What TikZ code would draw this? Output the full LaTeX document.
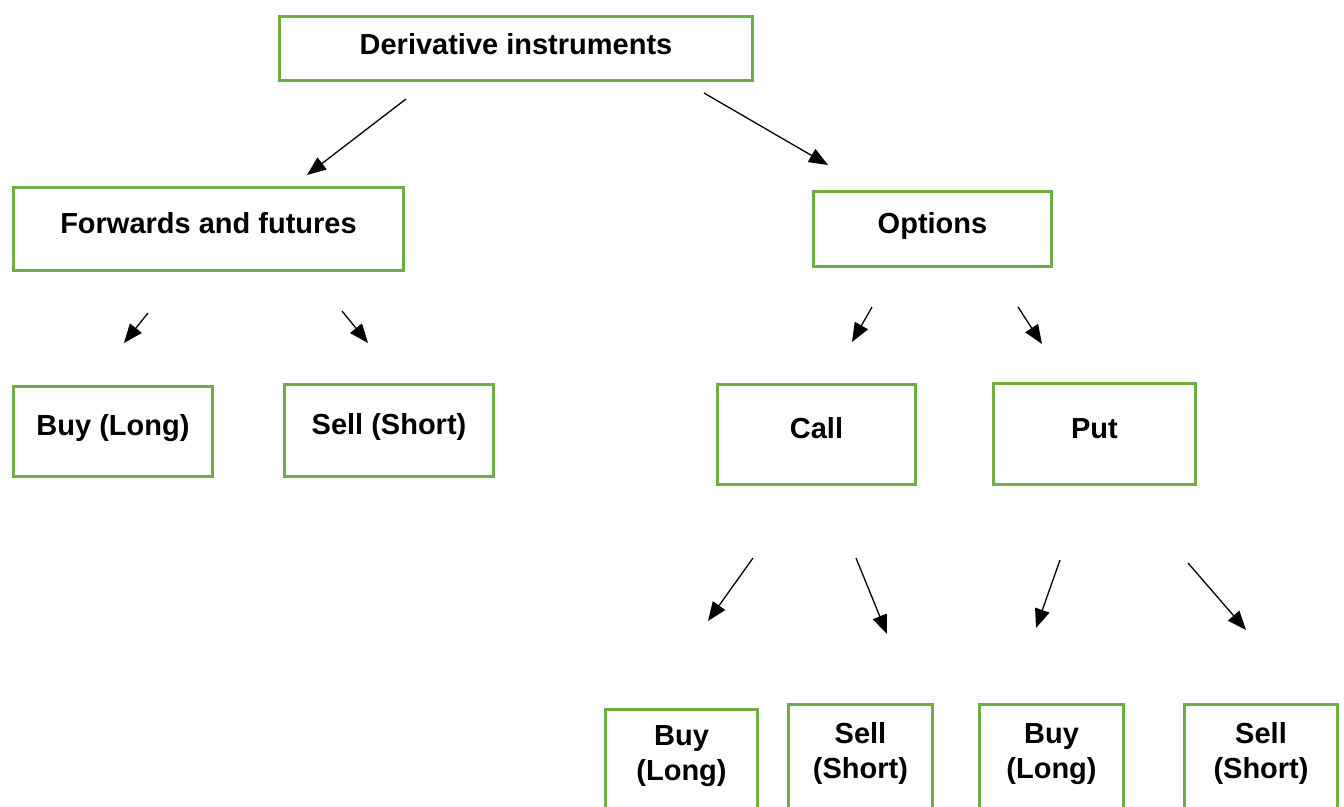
\documentclass[tikz,border=0pt]{standalone}
\usepackage{fontspec}
\setmainfont{Liberation Sans}
\usetikzlibrary{arrows.meta}
\definecolor{boxgreen}{HTML}{70AD47}
\begin{document}
\begin{tikzpicture}[x=1pt, y=-1pt,
    box/.style = {draw=boxgreen, line width=2.8pt, inner sep=0pt, font=\fontsize{29}{35}\selectfont\bfseries, text height=21pt, text depth=13pt},
    lbl/.style = {align=center, inner sep=0pt, font=\fontsize{29}{35}\selectfont\bfseries},
    arr/.style = {-{Triangle[length=19pt, width=15pt]}, line width=1.3pt}]
\useasboundingbox (0,0) rectangle (1344,806);
\clip (0,0) rectangle (1344,806);
% boxes
\node[box, minimum width=473, minimum height=64, text depth=9pt] (deriv) at (516,48.5) {Derivative instruments};
\node[box, minimum width=390, minimum height=83] (fwd) at (208.5,229) {Forwards and futures};
\node[box, minimum width=238, minimum height=75] (opt) at (932.5,229) {Options};
\node[box, minimum width=199, minimum height=90] (fbuy) at (113,431.5) {Buy (Long)};
\node[box, minimum width=209, minimum height=92] (fsell) at (389,430.5) {Sell (Short)};
\node[box, minimum width=198, minimum height=100] (call) at (816.5,434.5) {Call};
\node[box, minimum width=202, minimum height=101] (put) at (1094.5,434) {Put};
\node[box, minimum width=152, minimum height=130] (cbuy) at (681.5,774.5) {};
\node[box, minimum width=144, minimum height=130] (csell) at (860.5,769.5) {};
\node[box, minimum width=144, minimum height=130] (pbuy) at (1051.5,769.5) {};
\node[box, minimum width=153, minimum height=130] (psell) at (1261,769.5) {};
\node[lbl] (cbuy-t) at (681.5,756) {Buy\\(Long)};
\node[lbl] (csell-t) at (860.5,753) {Sell\\(Short)};
\node[lbl] (pbuy-t) at (1051.5,754) {Buy\\(Long)};
\node[lbl] (psell-t) at (1261,753) {Sell\\(Short)};
% arrow ends
\coordinate (d1) at (406,99);   \coordinate (d2) at (307,175);
\coordinate (o1) at (704,93);   \coordinate (o2) at (828,165);
\coordinate (fb1) at (148,313); \coordinate (fb2) at (124,343);
\coordinate (fs1) at (342,311); \coordinate (fs2) at (368,343);
\coordinate (c1) at (872,307);  \coordinate (c2) at (852,342);
\coordinate (p1) at (1018,307); \coordinate (p2) at (1042,344);
\coordinate (cb1) at (753,558); \coordinate (cb2) at (708,621);
\coordinate (cs1) at (856,558); \coordinate (cs2) at (887,634);
\coordinate (pb1) at (1060,560); \coordinate (pb2) at (1036,628);
\coordinate (ps1) at (1188,563); \coordinate (ps2) at (1246,630);
\draw[arr] (d1) -- (d2);
\draw[arr] (o1) -- (o2);
\draw[arr] (fb1) -- (fb2);
\draw[arr] (fs1) -- (fs2);
\draw[arr] (c1) -- (c2);
\draw[arr] (p1) -- (p2);
\draw[arr] (cb1) -- (cb2);
\draw[arr] (cs1) -- (cs2);
\draw[arr] (pb1) -- (pb2);
\draw[arr] (ps1) -- (ps2);
\end{tikzpicture}
\end{document}
